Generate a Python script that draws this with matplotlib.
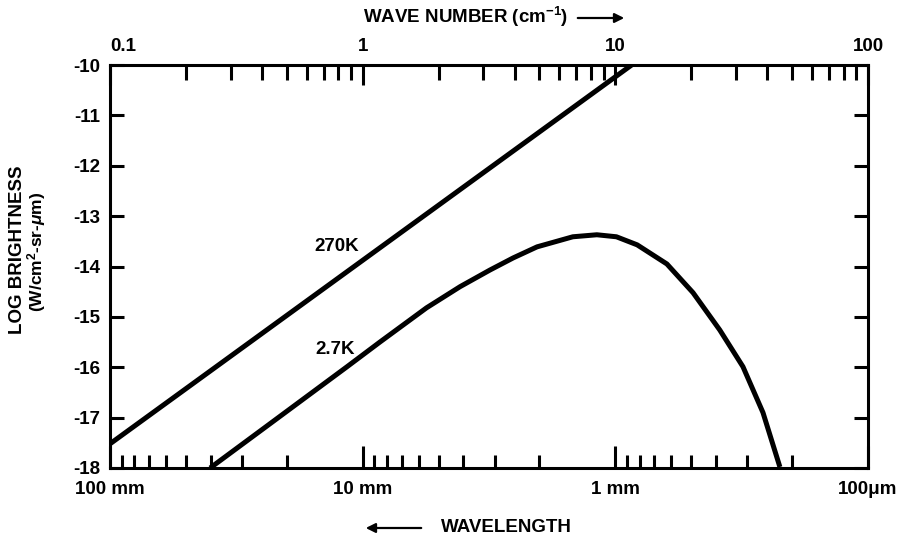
import matplotlib
matplotlib.use("Agg")
import matplotlib.pyplot as plt
from matplotlib.ticker import FixedLocator, FixedFormatter, NullFormatter

plt.rcParams['font.family'] = ['Liberation Sans', 'DejaVu Sans']
plt.rcParams['font.weight'] = 'bold'
plt.rcParams['mathtext.fontset'] = 'custom'
plt.rcParams['mathtext.rm'] = 'Liberation Sans:bold'
plt.rcParams['mathtext.it'] = 'Liberation Sans:bold:italic'
plt.rcParams['mathtext.bf'] = 'Liberation Sans:bold'

# ---- data ----
wavenumber_270K = [0.1, 11.6]
logB_270K = [-17.52, -10.0]

wavenumber_2_7K = [0.249, 0.417, 0.867, 1.17, 1.79, 2.43, 3.19, 3.94, 4.90,
                   6.79, 8.45, 10.1, 12.2, 16.0, 20.3, 25.9, 32.0, 38.4, 44.8]
logB_2_7K = [-18.0, -17.17, -15.99, -15.5, -14.82, -14.40, -14.07, -13.83, -13.61,
             -13.41, -13.37, -13.41, -13.57, -13.95, -14.52, -15.26, -15.99, -16.90, -17.98]

top_major = [0.1, 1, 10, 100]
top_labels = ['0.1', '1', '10', '100']
wl_major_mm = [100, 10, 1, 0.1]
wl_labels = ['100 mm', '10 mm', '1 mm', '100\u03bcm']
wl_minor_mm = [90, 80, 70, 60, 50, 40, 30, 20,
               9, 8, 7, 6, 5, 4, 3, 2,
               0.9, 0.8, 0.7, 0.6, 0.5, 0.4, 0.3, 0.2]
y_ticks = [-10, -11, -12, -13, -14, -15, -16, -17, -18]

FS = 13.5
W, H = 897, 543
fig = plt.figure(figsize=(W / 100, H / 100), dpi=100)
ax = fig.add_axes([110 / W, 1 - 468 / H, (868 - 110) / W, (468 - 65) / H])

lw = 3.6
ax.plot(wavenumber_270K, logB_270K, color='black', lw=lw, solid_capstyle='butt')
ax.plot(wavenumber_2_7K, logB_2_7K, color='black', lw=lw, solid_joinstyle='round',
        solid_capstyle='butt')

ax.set_xscale('log')
ax.set_xlim(0.1, 100)
ax.set_ylim(-18, -10)

for s in ax.spines.values():
    s.set_linewidth(2.2)

# y axis
ax.set_yticks(y_ticks)
ax.set_yticklabels([str(v) for v in y_ticks])
ax.tick_params(axis='y', which='major', direction='in', length=10, width=2.2,
               left=True, right=True, labelsize=FS, pad=7)

# bottom axis: wavelength
ax.xaxis.set_major_locator(FixedLocator([10.0 / w for w in wl_major_mm]))
ax.xaxis.set_major_formatter(FixedFormatter(wl_labels))
ax.xaxis.set_minor_locator(FixedLocator([10.0 / w for w in wl_minor_mm]))
ax.xaxis.set_minor_formatter(NullFormatter())
ax.tick_params(axis='x', which='major', direction='in', length=16, width=2.2,
               labelsize=FS, pad=9, top=False)
ax.tick_params(axis='x', which='minor', direction='in', length=9.4, width=2.2, top=False)

# top axis: wave number
axt = ax.twiny()
axt.set_xscale('log')
axt.set_xlim(0.1, 100)
for s in axt.spines.values():
    s.set_visible(False)
axt.xaxis.set_major_locator(FixedLocator(top_major))
axt.xaxis.set_major_formatter(FixedFormatter(top_labels))
axt.xaxis.set_minor_locator(FixedLocator([m * d for d in [0.1, 1, 10] for m in range(2, 10)]))
axt.xaxis.set_minor_formatter(NullFormatter())
axt.tick_params(axis='x', which='major', direction='in', length=14.5, width=2.2,
                labelsize=FS, pad=7)
axt.tick_params(axis='x', which='minor', direction='in', length=10.8, width=2.2)
labs = axt.get_xticklabels()
labs[0].set_horizontalalignment('left')

# curve labels
ax.text(10 ** (-1 + (337 - 110) / 252.7), -10 - (247 - 65) / 50.4, '270K',
        fontsize=FS, fontweight='bold', ha='center', va='center')
ax.text(10 ** (-1 + (335 - 110) / 252.7), -10 - (350 - 65) / 50.4, '2.7K',
        fontsize=FS, fontweight='bold', ha='center', va='center')

# axis titles
fig.text(363 / W, 1 - 17 / H, 'WAVE NUMBER (cm$^{-1}$)', fontsize=FS,
         fontweight='bold', ha='left', va='center')
ax.annotate('', xy=(627 / W, 1 - 18 / H), xytext=(575 / W, 1 - 18 / H),
            xycoords='figure fraction', textcoords='figure fraction',
            arrowprops=dict(arrowstyle='-|>', lw=1.6, color='black', mutation_scale=14))

fig.text(506 / W, 1 - 527 / H, 'WAVELENGTH', fontsize=FS, fontweight='bold',
         ha='center', va='center')
ax.annotate('', xy=(363 / W, 1 - 528 / H), xytext=(424 / W, 1 - 528 / H),
            xycoords='figure fraction', textcoords='figure fraction',
            arrowprops=dict(arrowstyle='-|>', lw=1.6, color='black', mutation_scale=14))

fig.text(18 / W, 1 - 250 / H, 'LOG BRIGHTNESS', fontsize=FS, fontweight='bold',
         rotation=90, ha='center', va='center')
fig.text(37 / W, 1 - 252 / H, '(W/cm$^{2}$-sr-$\\mu$m)', fontsize=12.5, fontweight='bold',
         rotation=90, ha='center', va='center')

fig.savefig('out.png', dpi=100)
